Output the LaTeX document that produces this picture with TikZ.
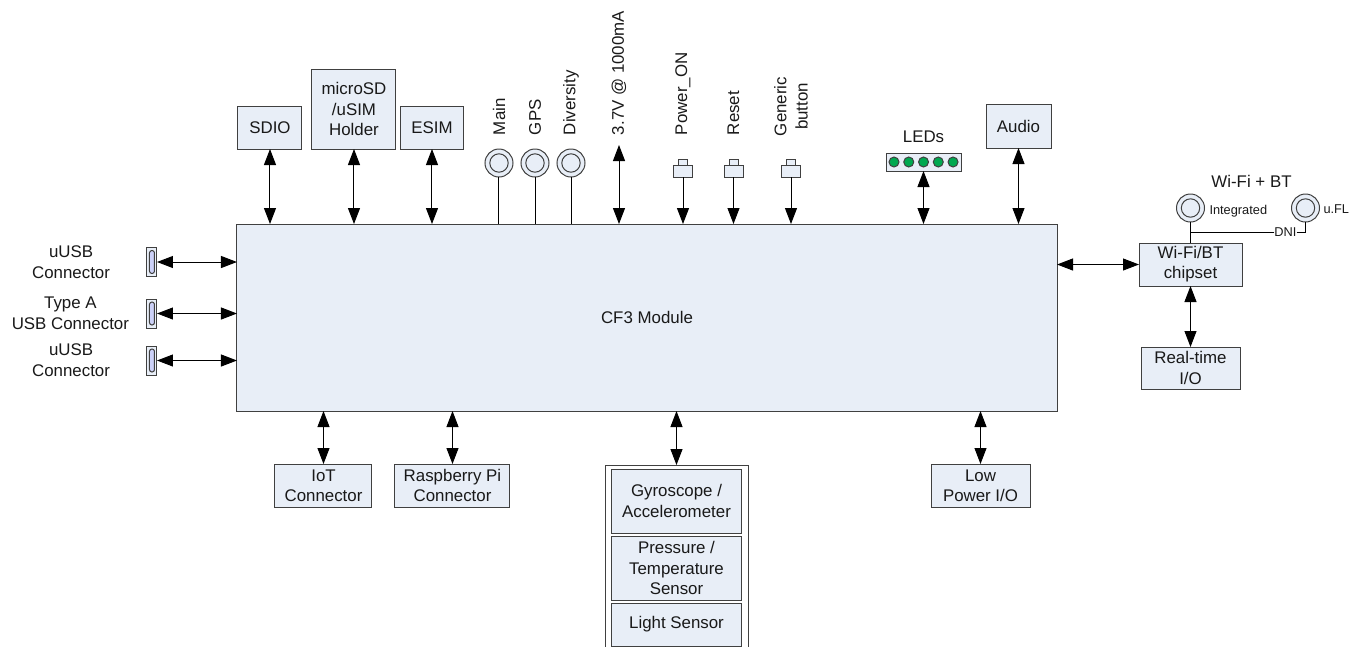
\documentclass[tikz,border=0pt]{standalone}
\usepackage{fontspec}
\setmainfont{Liberation Sans}
\usetikzlibrary{positioning,arrows.meta}
\definecolor{cell-fill}{HTML}{E8EEF7}
\definecolor{cell-line}{HTML}{404040}
\definecolor{led-fill}{HTML}{00A850}

\begin{document}
\begin{tikzpicture}
[
>={Triangle[length=4mm,width=3mm]},
line width=0.25mm,
cell-a/.style={rectangle, draw=cell-line, fill=cell-fill, align=center, inner sep=0mm, outer sep=0mm, font=\fontsize{12pt}{14.3pt}\selectfont, text=black!90},
ant-a/.style={circle, draw=cell-line, fill=cell-fill, minimum size=7mm, inner sep=0mm, outer sep=0mm},
ant-b/.style={circle, draw=cell-line, fill=cell-fill, minimum size=4.6mm, inner sep=0mm, outer sep=0mm},
key-a/.style={cell-a, minimum width=4.75mm, minimum height=3mm},
key-b/.style={cell-a, minimum width=2.25mm, minimum height=1.5mm},
usb-a/.style={cell-a, minimum width=2.5mm, minimum height=7.25mm},
usb-b/.style={cell-a, fill=blue!12!cell-fill, rounded corners=0.6mm, minimum width=1.25mm, minimum height=5.75mm},
led-a/.style={circle, draw=cell-line, fill=led-fill, minimum size=2.5mm, inner sep=0mm, outer sep=0mm},
text-a/.style={black!90, align=center, inner sep=0mm, outer sep=0mm, font=\fontsize{12pt}{15pt}\selectfont},
text-b/.style={text-a, font=\fontsize{9.1pt}{11pt}\selectfont},
text-v/.style={text-a, rotate=90, anchor=west}
]
\useasboundingbox (-161.75mm,-82.125mm) rectangle (175.75mm,79.375mm);
\node (module)     [cell-a, minimum width=205mm, minimum height=46.75mm]                                                             {CF3 Module};

\node (sdio)       [cell-a, minimum width=16mm,    minimum height=10.75mm, above = 18.75mm of module.north west, xshift=8.25mm]      {SDIO};
\node (usim)       [cell-a, minimum width=21mm,    minimum height=20mm,    above = 18.75mm of module.north west, xshift=29.25mm]     {microSD\\/uSIM\\Holder};
\node (esim)       [cell-a, minimum width=15.75mm, minimum height=10.75mm, above = 18.75mm of module.north west, xshift=48.75mm]     {ESIM};
\node (main)       [ant-a,  above = 11.75mm of module.north west, xshift=65.5mm]                                                     {};
\node (main-in)    [ant-b]  at (main)                                                                                                {};
\node (main-lb)    [text-v, above = 3.50mm of main, anchor=west]                                                                     {Main};
\node (gps)        [ant-a,  above = 11.75mm of module.north west, xshift=74.5mm]                                                     {};
\node (gps-in)     [ant-b]  at (gps)                                                                                                 {};
\node (gps-lb)     [text-v, above = 3.50mm of gps, anchor=west]                                                                      {GPS};
\node (div)        [ant-a,  above = 11.75mm of module.north west, xshift=83.5mm]                                                     {};
\node (div-in)     [ant-b]  at (div)                                                                                                 {};
\node (div-lb)     [text-v, above = 3.50mm of div, anchor=west]                                                                      {Diversity};
\node (bat)        [coordinate, above = 19.75mm of module.north west, xshift=95.5mm]                                                 {};
\node (bat-lb)     [text-v, above = 2.50mm of bat, anchor=west]                                                                      {3.7V @ 1000mA};
\node (pwr)        [key-a,  above = 11.75mm of module.north west, xshift=111.5mm]                                                    {};
\node (pwr-top)    [key-b,  above = 0mm of pwr]                                                                                      {};
\node (pwr-lb)     [text-v, above = 6mm of pwr-top, anchor=west]                                                                     {Power\_ON};
\node (rst)        [key-a,  above = 11.75mm of module.north west, xshift=124.125mm]                                                  {};
\node (rst-top)    [key-b,  above = 0mm of rst]                                                                                      {};
\node (rst-lb)     [text-v, above = 6mm of rst-top, anchor=west]                                                                     {Reset};
\node (btn)        [key-a,  above = 11.75mm of module.north west, xshift=138.5mm]                                                    {};
\node (btn-top)    [key-b,  above = 0mm of btn]                                                                                      {};
\node (btn-lb)     [text-v, above = 6mm of btn-top, anchor=west, xshift=-0.25mm]                                                     {Generic\\button};
\node (leds)       [cell-a, minimum width=18.75mm, minimum height=4.5mm,   above = 13.25mm of module.north west, xshift=171.625mm]   {};
\node (leds-lb)    [text-a, above = 2.50mm of leds]                                                                                  {LEDs};
\foreach \n in {0,...,4}
  \node (led-\n)   [led-a]  at ([xshift=2mm+\n*3.69mm]leds.west)                                                                     {};
\node (audio)      [cell-a, minimum width=16.25mm, minimum height=11mm,    above = 19mm of module.north west, xshift=195.375mm]      {Audio};

\node (usb-1)      [usb-a,  left = 20mm of module.west, yshift=13.875mm]                                                             {};
\node (usb-1-in)   [usb-b]  at (usb-1)                                                                                               {};
\node (usb-1-lb)   [text-a, left = 9.25mm of usb-1]                                                                                  {uUSB\\Connector};
\node (usb-2)      [usb-a,  left = 20mm of module.west, yshift=1mm]                                                                  {};
\node (usb-2-in)   [usb-b]  at (usb-2)                                                                                               {};
\node (usb-2-lb)   [text-a, left = 4.50mm of usb-2]                                                                                  {Type A\\USB Connector};
\node (usb-3)      [usb-a,  left = 20mm of module.west, yshift=-10.75mm]                                                             {};
\node (usb-3-in)   [usb-b]  at (usb-3)                                                                                               {};
\node (usb-3-lb)   [text-a, left = 9.25mm of usb-3]                                                                                  {uUSB\\Connector};

\node (iot)        [cell-a, minimum width=24.25mm, minimum height=10.75mm, below = 13.25mm of module.south west, xshift=21.625mm]    {IoT\\Connector};
\node (rpi)        [cell-a, minimum width=28.75mm, minimum height=10.75mm, below = 13.25mm of module.south west, xshift=53.875mm]    {Raspberry Pi\\Connector};
\node (sens)       [cell-a, fill=white, minimum width=35.75mm, minimum height=45.75mm, below = 13.50mm of module.south west, xshift=109.875mm] {};
\node (gyro)       [cell-a, minimum width=32.5mm, minimum height=16mm,     below = 1mm of sens.north]                                {Gyroscope /\\Accelerometer};
\node (press)      [cell-a, minimum width=32.5mm, minimum height=16mm,     below = 0.75mm of gyro]                                   {Pressure /\\Temperature\\Sensor};
\node (light)      [cell-a, minimum width=32.5mm, minimum height=10.75mm,  below = 0.75mm of press]                                  {Light Sensor};
\node (lowp)       [cell-a, minimum width=24.75mm, minimum height=10.75mm, below = 13.25mm of module.south west, xshift=185.875mm]   {Low\\Power I/O};

\node (wifi)       [cell-a, minimum width=25.75mm, minimum height=10.75mm, right = 20.50mm of module.east, yshift=13.25mm]           {Wi-Fi/BT\\chipset};
\node (rtio)       [cell-a, minimum width=24.75mm, minimum height=10.50mm, below = 15.25mm of wifi]                                  {Real-time\\I/O};
\node (int)        [ant-a,  above = 5.25mm of wifi]                                                                                  {};
\node (int-in)     [ant-b]  at (int)                                                                                                 {};
\node (int-lb)     [text-b, right = 1.25mm of int, yshift=-0.75mm]                                                                   {Integrated};
\node (ufl)        [ant-a,  right = 21.75mm of int]                                                                                  {};
\node (ufl-in)     [ant-b]  at (ufl)                                                                                                 {};
\node (ufl-lb)     [text-b, right = 1mm of ufl, yshift=-0.25mm]                                                                      {u.FL};
\node (dni)        [text-b, below = 1.50mm of ufl, xshift=-5mm]                                                                      {DNI};
\node (wlan-lb)    [text-a, above = 1.75mm of int, xshift=15.25mm]                                                                   {Wi-Fi + BT};

\draw [<->] (sdio)  -- (sdio |- module.north);
\draw [<->] (usim)  -- (usim |- module.north);
\draw [<->] (esim)  -- (esim |- module.north);
\draw       (main)  -- (main |- module.north);
\draw       (gps)   -- (gps |- module.north);
\draw       (div)   -- (div |- module.north);
\draw [<->] (bat)   -- (bat |- module.north);
\draw [->]  (pwr)   -- (pwr |- module.north);
\draw [->]  (rst)   -- (rst |- module.north);
\draw [->]  (btn)   -- (btn |- module.north);
\draw [<->] (leds)  -- (leds |- module.north);
\draw [<->] (audio) -- (audio |- module.north);
\draw [<->] (usb-1) -- (usb-1 -| module.west);
\draw [<->] (usb-2) -- (usb-2 -| module.west);
\draw [<->] (usb-3) -- (usb-3 -| module.west);
\draw [<->] (iot)   -- (iot |- module.south);
\draw [<->] (rpi)   -- (rpi |- module.south);
\draw [<->] (sens)  -- (sens |- module.south);
\draw [<->] (lowp)  -- (lowp |- module.south);
\draw [<->] (wifi)  -- (wifi -| module.east);
\draw [<->] (wifi)  -- (rtio);
\draw       (int)   -- (wifi);
\draw       (dni)   -- (dni -| int);
\draw       (dni)   -| (ufl);
\end{tikzpicture}
\end{document}
